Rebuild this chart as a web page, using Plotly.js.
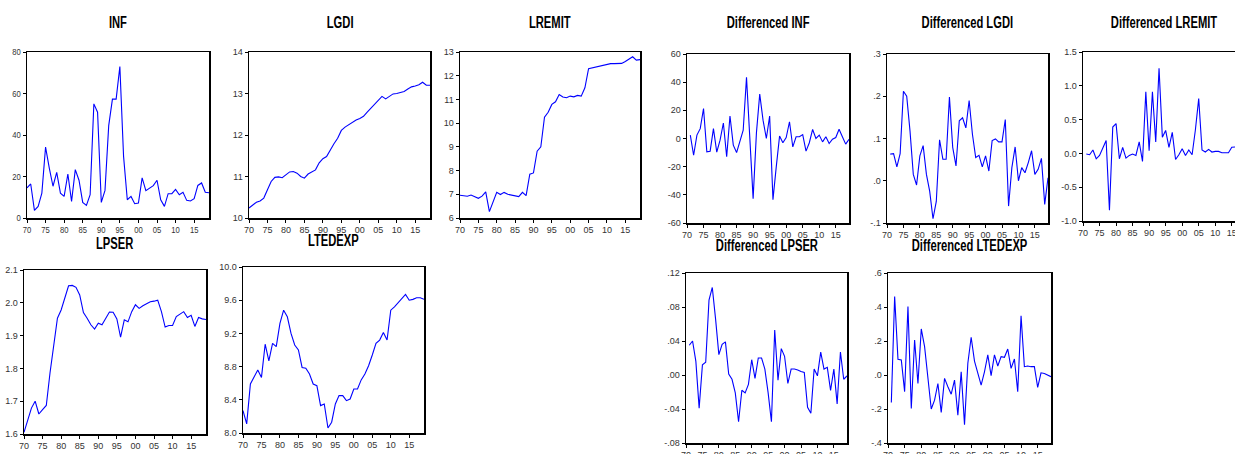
<!DOCTYPE html>
<html>
<head>
<meta charset="utf-8">
<script src="https://cdn.plot.ly/plotly-3.0.1.min.js"></script>
<style>
html,body{margin:0;padding:0;background:#fff;overflow:hidden;}
#chart{width:1250px;height:454px;}
</style>
</head>
<body>
<div id="chart"></div>
<script>
// ---------------- DATA ----------------
var years = [1970,1971,1972,1973,1974,1975,1976,1977,1978,1979,
             1980,1981,1982,1983,1984,1985,1986,1987,1988,1989,
             1990,1991,1992,1993,1994,1995,1996,1997,1998,1999,
             2000,2001,2002,2003,2004,2005,2006,2007,2008,2009,
             2010,2011,2012,2013,2014,2015,2016,2017,2018,2019];
var diffYears = years.slice(1);

var xTickVals = [1970,1975,1980,1985,1990,1995,2000,2005,2010,2015];
var xTickText = ["70","75","80","85","90","95","00","05","10","15"];

var INF = [14.5,16.4,3.7,5.6,12,34.2,24,15.3,22,12,
           10.4,21.2,8,23.3,18.2,7.5,6.1,11.2,55,51,
           7.5,13.3,44.5,57.3,57.3,73,29.7,8.8,10.4,6.9,
           7.2,19.3,13.2,14.5,15.6,18.2,8.8,5.6,11.7,11.7,
           13.8,11.2,12.4,8.5,8.2,9.3,15.7,16.9,12.4,12.2];

var LGDI = [10.24,10.31,10.38,10.41,10.48,10.68,10.88,10.98,10.99,10.97,
            11.03,11.11,11.12,11.08,11.0,10.96,11.06,11.11,11.16,11.33,
            11.43,11.48,11.65,11.79,11.92,12.11,12.19,12.25,12.31,12.36,
            12.40,12.45,12.55,12.64,12.73,12.82,12.93,12.87,12.92,12.99,
            13.0,13.03,13.05,13.11,13.16,13.18,13.21,13.27,13.2,13.2];

var LREMIT = [6.96,6.94,6.92,6.97,6.89,6.83,6.92,7.1,6.27,6.66,
              7.08,6.99,7.08,7.0,6.96,6.94,6.9,7.08,6.94,7.85,
              7.9,8.82,9.0,10.25,10.46,10.79,10.9,11.21,11.1,11.07,
              11.14,11.11,11.17,11.14,11.49,12.3,12.34,12.37,12.42,12.45,
              12.48,12.51,12.51,12.52,12.52,12.6,12.7,12.8,12.66,12.68];

var LPSER = [1.605,1.639,1.679,1.70,1.661,1.674,1.687,1.786,1.872,1.953,
             1.978,2.014,2.052,2.053,2.047,2.024,1.97,1.953,1.933,1.92,
             1.938,1.933,1.951,1.972,1.971,1.951,1.895,1.948,1.942,1.973,
             1.994,1.983,1.991,1.998,2.003,2.005,2.008,1.973,1.926,1.931,
             1.931,1.958,1.965,1.973,1.955,1.962,1.928,1.955,1.951,1.949];

var LTEDEXP = [8.27,8.11,8.59,8.67,8.76,8.67,9.07,8.87,9.08,9.04,
               9.32,9.48,9.4,9.2,9.06,9.0,8.79,8.78,8.71,8.59,
               8.57,8.33,8.35,8.06,8.13,8.35,8.45,8.45,8.39,8.41,
               8.53,8.53,8.64,8.71,8.81,8.94,9.08,9.12,9.21,9.12,
               9.48,9.52,9.57,9.62,9.67,9.6,9.61,9.63,9.63,9.61];

var D_INF = [2.4,-11.9,2.4,7,21.3,-9.5,-9,7,-9.7,-1.2,
             11,-13,16,-4.7,-10,-2,6,43.4,-4,-42.7,
             4,31.5,13,0,16,-43.4,-20,1.7,-3,0.7,
             11.9,-6,1.2,1.2,2.8,-9,-3,6.4,0,2.4,
             -2.4,1.2,-3.6,-0.5,0.7,6.6,1.2,-4,-0.5];

var D_LGDI = [0.063,0.064,0.033,0.064,0.212,0.2,0.118,0.015,-0.01,0.059,
              0.083,0.015,-0.025,-0.09,-0.049,0.097,0.051,0.051,0.198,0.079,
              0.035,0.142,0.149,0.125,0.19,0.11,0.055,0.06,0.033,0.059,
              0.023,0.095,0.099,0.092,0.092,0.145,-0.06,0.031,0.08,0.0,
              0.031,0.019,0.043,0.071,0.015,0.027,0.053,-0.056,0.007];

var D_LREMIT = [-0.01,-0.02,0.05,-0.08,-0.03,0.09,0.19,-0.84,0.39,0.44,
                -0.08,0.09,-0.07,-0.03,-0.01,-0.03,0.17,-0.12,0.91,0.04,
                0.91,0.17,1.26,0.24,0.34,0.09,0.31,-0.09,-0.02,0.07,
                -0.03,0.05,-0.02,0.35,0.81,0.05,0.02,0.06,0.02,0.03,
                0.03,0.01,0.01,0.01,0.09,0.09,0.1,-0.14,0.02];

var D_LPSER = [0.035,0.040,0.016,-0.039,0.012,0.015,0.088,0.103,0.066,0.024,
               0.036,0.039,0.001,-0.005,-0.021,-0.055,-0.018,-0.021,-0.011,0.018,
               -0.004,0.02,0.02,0.007,-0.021,-0.055,0.053,-0.006,0.031,0.022,
               -0.01,0.007,0.007,0.006,0.004,0.003,-0.038,-0.045,0.007,-0.001,
               0.027,0.007,0.009,-0.018,0.007,-0.034,0.027,-0.005,-0.001];

var D_LTEDEXP = [-0.162,0.462,0.092,0.089,-0.098,0.403,-0.197,0.206,-0.05,0.271,
                 0.167,-0.04,-0.2,-0.148,-0.05,-0.22,-0.02,-0.069,-0.113,-0.03,
                 -0.236,0.019,-0.292,0.069,0.222,0.082,0.006,-0.059,0.019,0.118,
                 -0.004,0.118,0.053,0.108,0.104,0.153,0.039,0.094,-0.098,0.348,
                 0.049,0.053,0.049,0.049,-0.073,0.013,0.009,0,-0.01];

// y tick labels
var yt_INF = {v:[0,20,40,60,80], t:["0","20","40","60","80"]};
var yt_LGDI = {v:[10,11,12,13,14], t:["10","11","12","13","14"]};
var yt_LREMIT = {v:[6,7,8,9,10,11,12,13], t:["6","7","8","9","10","11","12","13"]};
var yt_DINF = {v:[-60,-40,-20,0,20,40,60], t:["-60","-40","-20","0","20","40","60"]};
var yt_DLGDI = {v:[-0.1,0,0.1,0.2,0.3], t:["-.1",".0",".1",".2",".3"]};
var yt_DLREMIT = {v:[-1,-0.5,0,0.5,1,1.5], t:["-1.0","-0.5","0.0","0.5","1.0","1.5"]};
var yt_LPSER = {v:[1.6,1.7,1.8,1.9,2.0,2.1], t:["1.6","1.7","1.8","1.9","2.0","2.1"]};
var yt_LTEDEXP = {v:[8,8.4,8.8,9.2,9.6,10], t:["8.0","8.4","8.8","9.2","9.6","10.0"]};
var yt_DLPSER = {v:[-0.08,-0.04,0,0.04,0.08,0.12], t:["-.08","-.04",".00",".04",".08",".12"]};
var yt_DLTEDEXP = {v:[-0.4,-0.2,0,0.2,0.4,0.6], t:["-.4","-.2",".0",".2",".4",".6"]};

// ---------------- LAYOUT ----------------
var W = 1250, H = 454;
var panels = [
  {title:"INF", x:years, y:INF, yt:yt_INF, yr:[0,80], box:[27,209,52,218], ty:23},
  {title:"LGDI", x:years, y:LGDI, yt:yt_LGDI, yr:[10,14], box:[249,430,52,218], ty:23},
  {title:"LREMIT", x:years, y:LREMIT, yt:yt_LREMIT, yr:[6,13], box:[460,640,52,218], ty:23},
  {title:"Differenced INF", x:diffYears, y:D_INF, yt:yt_DINF, yr:[-60,60], box:[687,849,54,223], ty:23},
  {title:"Differenced LGDI", x:diffYears, y:D_LGDI, yt:yt_DLGDI, yr:[-0.1,0.3], box:[887,1048,54,223], ty:23},
  {title:"Differenced LREMIT", x:diffYears, y:D_LREMIT, yt:yt_DLREMIT, yr:[-1,1.5], box:[1083,1245,52,221], ty:23},
  {title:"LPSER", x:years, y:LPSER, yt:yt_LPSER, yr:[1.6,2.1], box:[24,206,270,434], ty:243},
  {title:"LTEDEXP", x:years, y:LTEDEXP, yt:yt_LTEDEXP, yr:[8,10], box:[243,424,267,433], ty:240},
  {title:"Differenced LPSER", x:diffYears, y:D_LPSER, yt:yt_DLPSER, yr:[-0.08,0.12], box:[686,847,273,443], ty:245},
  {title:"Differenced LTEDEXP", x:diffYears, y:D_LTEDEXP, yt:yt_DLTEDEXP, yr:[-0.4,0.6], box:[888,1051,273,443], ty:245}
];

var tickFont = {family:"'Liberation Sans', Arial, sans-serif", size:9, color:"#333"};
var titleFont = {family:"'Liberation Sans', Arial, sans-serif", size:16, color:"#000", weight:"bold"};

var data = [];
var layout = {
  width: W, height: H,
  margin: {l:0, r:0, t:0, b:0},
  paper_bgcolor: "#fff",
  plot_bgcolor: "#fff",
  showlegend: false,
  annotations: []
};

panels.forEach(function(p, i) {
  var n = i + 1;
  var xa = "x" + (n === 1 ? "" : n), ya = "y" + (n === 1 ? "" : n);
  var xk = "xaxis" + (n === 1 ? "" : n), yk = "yaxis" + (n === 1 ? "" : n);
  data.push({
    type: "scatter", mode: "lines",
    x: p.x, y: p.y,
    xaxis: xa, yaxis: ya,
    line: {color: "#0000ff", width: 1.1},
    hoverinfo: "skip"
  });
  var b = p.box;
  layout[xk] = {
    domain: [b[0] / W, b[1] / W],
    anchor: ya,
    range: [1970, 2019],
    tickmode: "array", tickvals: xTickVals, ticktext: xTickText,
    ticks: "outside", ticklen: 3, tickwidth: 1, tickcolor: "#000",
    showline: true, linecolor: "#000", linewidth: 1.5, mirror: true,
    showgrid: false, zeroline: false,
    tickfont: tickFont,
    fixedrange: true
  };
  layout[yk] = {
    domain: [1 - b[3] / H, 1 - b[2] / H],
    anchor: xa,
    range: p.yr,
    tickmode: "array", tickvals: p.yt.v, ticktext: p.yt.t,
    ticks: "outside", ticklen: 3, tickwidth: 1, tickcolor: "#000",
    showline: true, linecolor: "#000", linewidth: 1.5, mirror: true,
    showgrid: false, zeroline: false,
    tickfont: tickFont,
    fixedrange: true
  };
  layout.annotations.push({
    text: p.title,
    xref: "paper", yref: "paper",
    x: ((b[0] + b[1]) / 2) / W,
    y: 1 - p.ty / H,
    xanchor: "center", yanchor: "middle",
    showarrow: false,
    font: titleFont
  });
});

function condense(selector, factor) {
  document.querySelectorAll(selector).forEach(function(t) {
    var w = t.getComputedTextLength();
    if (w > 0) {
      t.setAttribute("lengthAdjust", "spacingAndGlyphs");
      t.setAttribute("textLength", (w * factor).toFixed(1));
    }
  });
}

Plotly.newPlot("chart", data, layout, {staticPlot: true, displayModeBar: false}).then(function() {
  condense("#chart .annotation-text", 0.70);
  condense("#chart .xtick text, #chart .ytick text", 0.85);
});
</script>
</body>
</html>
